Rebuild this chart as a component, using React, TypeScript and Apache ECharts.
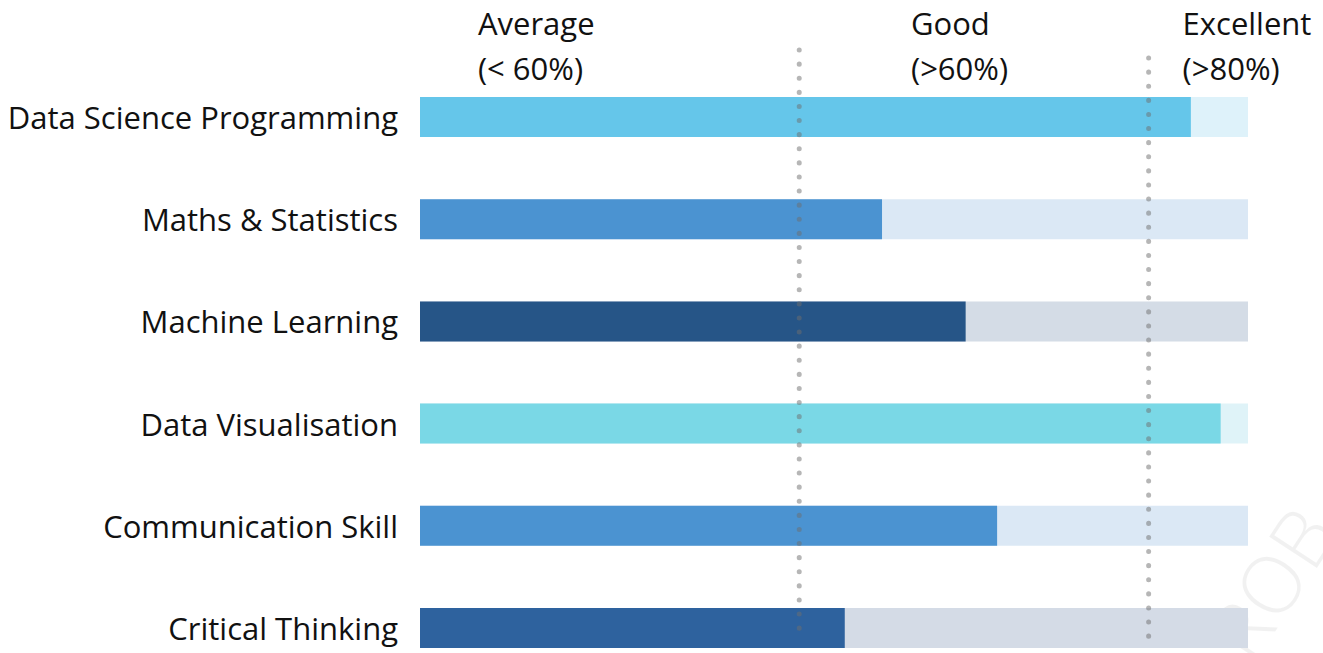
import React, { useEffect, useRef } from "react";
import * as echarts from "echarts";

const categories = [
  "Data Science Programming",
  "Maths & Statistics",
  "Machine Learning",
  "Data Visualisation",
  "Communication Skill",
  "Critical Thinking",
];
const skillValues = [93.1, 55.8, 65.9, 96.7, 69.7, 51.3];
const trackValues = [100, 100, 100, 100, 100, 100];
const barColors = ["#65c6ea", "#4b93d1", "#265587", "#7ad8e6", "#4b93d1", "#2e629e"];
const trackColors = ["#def2fa", "#dbe8f5", "#d4dce6", "#dff3f8", "#dbe8f5", "#d4dbe6"];
const levelTitles = ["Average", "Good", "Excellent"];
const levelSubtitles = ["(< 60%)", "(>60%)", "(>80%)"];
const levelLabelPositions = [7, 59.3, 92.1];
const thresholdPositions = [45.8, 88];
const watermarkText = "ROB";

const FONT = "'Open Sans', 'Noto Sans', sans-serif";

export default function App() {
  const ref = useRef<HTMLDivElement>(null);
  useEffect(() => {
    if (!ref.current) return;
    const chart = echarts.init(ref.current, undefined, { renderer: "svg" });
    chart.setOption({
      animation: false,
      backgroundColor: "#ffffff",
      grid: {
        left: 420,
        right: 75,
        top: 66,
        height: 613,
        containLabel: false,
        outerBoundsMode: "none",
      },
      xAxis: {
        type: "value",
        min: 0,
        max: 100,
        show: false,
      },
      yAxis: {
        type: "category",
        data: categories,
        inverse: true,
        axisLine: { show: false },
        axisTick: { show: false },
        splitLine: { show: false },
        axisLabel: {
          fontSize: 31,
          fontFamily: FONT,
          color: "#111111",
          margin: 22,
        },
      },
      series: [
        {
          type: "bar",
          silent: true,
          barWidth: 40,
          barGap: "-100%",
          data: trackValues.map((v, i) => ({ value: v, itemStyle: { color: trackColors[i] } })),
        },
        {
          type: "bar",
          silent: true,
          barWidth: 40,
          data: skillValues.map((v, i) => ({ value: v, itemStyle: { color: barColors[i] } })),
        },
      ],
    });

    const px = (v: number) => chart.convertToPixel({ xAxisIndex: 0 }, v) as number;
    const graphics: any[] = [];
    levelTitles.forEach((t, i) => {
      const x = px(levelLabelPositions[i]);
      graphics.push({
        type: "text",
        style: { x, y: 23, text: t, font: `31px ${FONT}`, fill: "#111111", align: "left", verticalAlign: "middle" },
      });
      graphics.push({
        type: "text",
        style: { x, y: 68, text: levelSubtitles[i], font: `31px ${FONT}`, fill: "#111111", align: "left", verticalAlign: "middle" },
      });
    });
    const lineTops = [50, 58];
    thresholdPositions.forEach((v, i) => {
      const x = px(v);
      graphics.push({
        type: "line",
        z: 100,
        shape: { x1: x, y1: lineTops[i], x2: x, y2: 638 },
        style: { stroke: "rgba(110,110,110,0.5)", lineWidth: 5, lineDash: [0.1, 14], lineCap: "round" },
      });
    });
    graphics.push({
      type: "text",
      z: 0,
      x: 1270,
      y: 582,
      rotation: 0.99,
      style: { x: 0, y: 0, text: watermarkText, font: `300 80px ${FONT}`, fill: "rgba(0,0,0,0.055)", align: "center", verticalAlign: "middle" },
    });
    chart.setOption({ graphic: graphics });

    return () => chart.dispose();
  }, []);
  return (
    <div
      ref={ref}
      style={{ position: "absolute", left: 0, top: 0, width: 1323, height: 653 }}
    />
  );
}
